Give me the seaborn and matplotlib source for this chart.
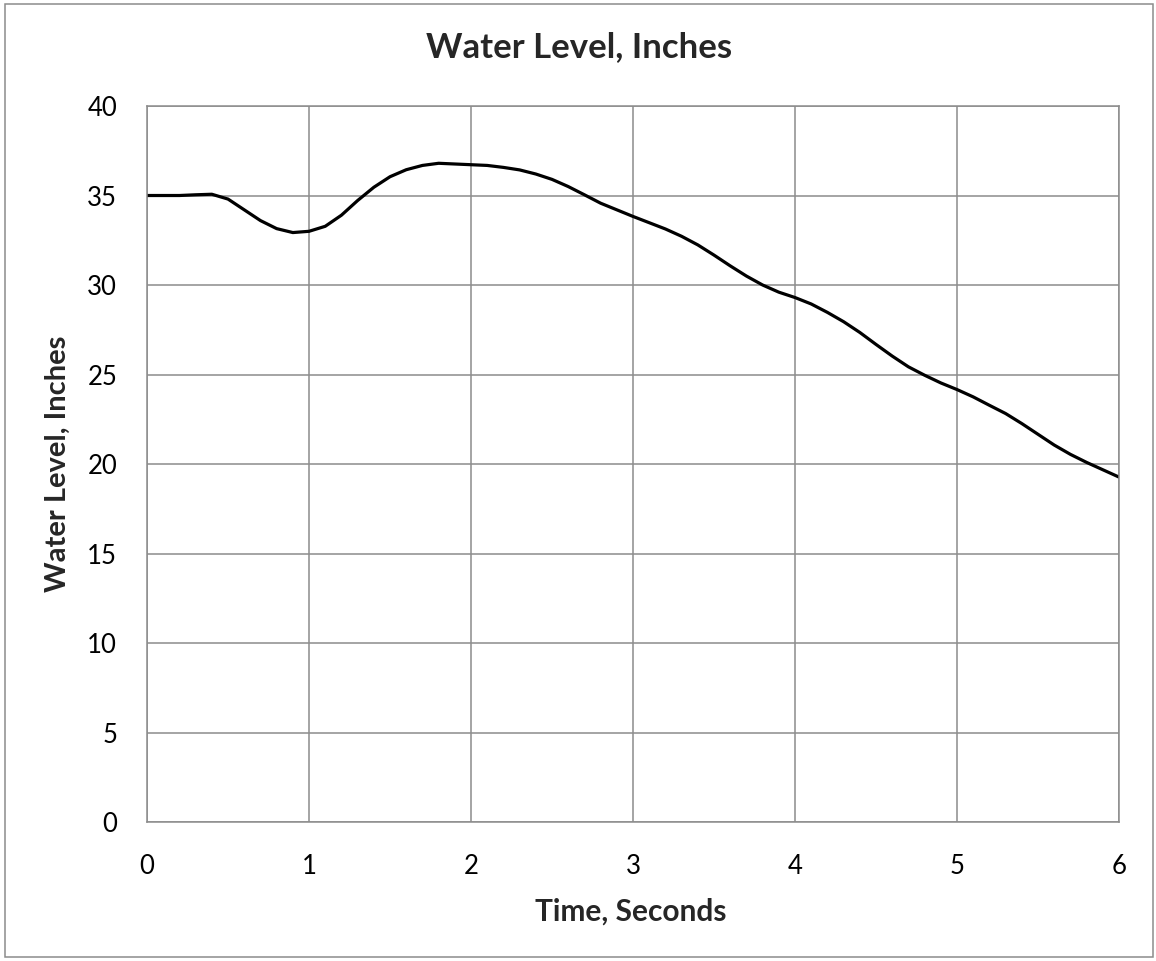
import matplotlib.pyplot as plt
import matplotlib.patches as mpatches
import pandas as pd
import seaborn as sns

# Values, every 0.1 s
time_s = [round(i * 0.1, 1) for i in range(61)]
level_in = [
    35.0, 35.0, 35.0, 35.04, 35.07, 34.8, 34.2, 33.6, 33.15, 32.93,
    33.0, 33.28, 33.9, 34.72, 35.46, 36.05, 36.44, 36.68, 36.8, 36.76,
    36.72, 36.68, 36.57, 36.43, 36.2, 35.9, 35.5, 35.04, 34.57, 34.2,
    33.83, 33.48, 33.13, 32.72, 32.24, 31.67, 31.07, 30.5, 30.0, 29.6,
    29.3, 28.94, 28.47, 27.95, 27.35, 26.68, 26.03, 25.43, 24.96, 24.53,
    24.16, 23.75, 23.28, 22.82, 22.26, 21.66, 21.06, 20.54, 20.09, 19.68,
    19.27,
]
x_ticks = [0, 1, 2, 3, 4, 5, 6]
y_ticks = [0, 5, 10, 15, 20, 25, 30, 35, 40]

df = pd.DataFrame({'time': time_s, 'level': level_in})

sns.set_style('white')
plt.rcParams['font.family'] = ['Lato', 'DejaVu Sans']

fig = plt.figure(figsize=(11.56, 9.61), dpi=100)
ax = fig.add_axes([0.1272, 0.1446, 0.8408, 0.7451])

sns.lineplot(data=df, x='time', y='level', ax=ax, color='black', linewidth=2.3)

ax.set_xlim(0, 6)
ax.set_ylim(0, 40)
ax.set_xticks(x_ticks)
ax.set_yticks(y_ticks)
ax.tick_params(axis='both', length=0, labelsize=18.5, colors='black')
ax.tick_params(axis='x', pad=23)
ax.tick_params(axis='y', pad=21.5)
ax.grid(True, color='#8c8c8c', linewidth=1.1)
for s in ax.spines.values():
    s.set_color('#8c8c8c')
    s.set_linewidth(1.1)

ax.set_xlabel('Time, Seconds', fontsize=21.5, fontweight='bold', va='baseline')
ax.xaxis.set_label_coords(0.498, -0.137)
ax.set_ylabel('Water Level, Inches', fontsize=21, fontweight='bold', va='center')
ax.yaxis.set_label_coords(-0.092, 0.5)
fig.text(0.501, 0.951, 'Water Level, Inches', ha='center', va='center',
         fontsize=25, fontweight='bold')

# chart area border
fig.patches.append(mpatches.Rectangle((0.004, 0.004), 0.993, 0.992, transform=fig.transFigure,
                                      fill=False, edgecolor='#8c8c8c', linewidth=1.1))

fig.savefig('out.png', dpi=100)
